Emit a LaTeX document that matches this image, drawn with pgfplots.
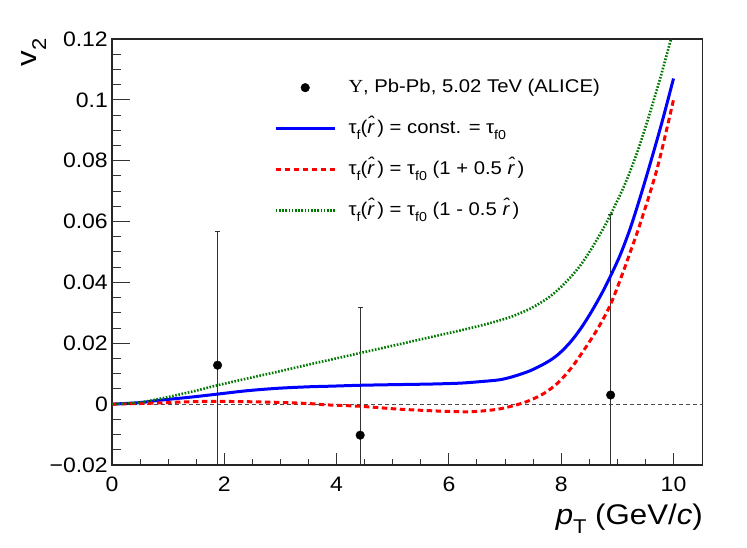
\documentclass[border=0pt]{standalone}
\usepackage{pgfplots}
\pgfplotsset{compat=1.18}
\usepackage{fontspec}
\setmainfont{Liberation Sans}[FakeStretch=1.1]
\newfontfamily\serifsym{Liberation Serif}[FakeStretch=1.1]
\definecolor{rgreen}{RGB}{0,120,0}
\newcommand{\sub}[1]{\raisebox{-0.32em}{\fontsize{13}{15}\selectfont #1}}
\newcommand{\tauf}{τ\sub{f}(\textit{\^{r}})}
\pgfplotstableread{
x y e
1.88 0.0128 0.044
4.42 -0.0102 0.042
8.88 0.0030 0.0594
}\alice
\pgfplotstableread{
x y
0 0
0.5 0.0005
0.86 0.0013
1.4 0.0023
1.88 0.0033
2.4 0.0044
2.94 0.0052
3.5 0.0057
3.89 0.0059
4.42 0.0062
5.0 0.0064
5.67 0.0066
6.2 0.0069
6.56 0.0074
6.9 0.0080
7.15 0.0091
7.45 0.0110
7.75 0.0138
7.95 0.0164
8.16 0.0203
8.35 0.0249
8.52 0.0298
8.7 0.0356
8.85 0.0410
9.05 0.0490
9.23 0.0578
9.41 0.0682
9.6 0.0800
9.8 0.0930
10.0 0.1070
}\blue
\pgfplotstableread{
x y
0 0
0.5 0.0002
0.86 0.0004
1.4 0.0008
1.88 0.0009
2.4 0.0008
2.94 0.0006
3.5 0.0002
3.89 -0.0003
4.42 -0.0007
5.07 -0.0016
5.6 -0.0021
6.0 -0.0024
6.4 -0.0025
6.86 -0.0017
7.21 -0.0002
7.45 0.0013
7.7 0.0036
7.93 0.0068
8.15 0.0112
8.34 0.0160
8.64 0.0245
8.88 0.0328
9.11 0.0438
9.23 0.0500
9.41 0.0595
9.71 0.0775
10.0 0.1000
}\red
\pgfplotstableread{
x y
0 0
0.5 0.0006
0.86 0.0018
1.4 0.0040
1.88 0.0062
2.4 0.0084
2.94 0.0106
3.5 0.0130
3.89 0.0146
4.42 0.0168
5.0 0.0192
5.67 0.0220
6.2 0.0242
6.56 0.0258
6.9 0.0275
7.15 0.0290
7.45 0.0314
7.75 0.0347
7.95 0.0377
8.16 0.0416
8.35 0.0458
8.52 0.0505
8.7 0.0561
8.85 0.0612
9.06 0.0692
9.2 0.0752
9.35 0.0826
9.5 0.0910
9.65 0.1000
9.8 0.1095
9.95 0.1197
10.0 0.1233
}\green
\pgfplotsset{
  linelegend/.style={legend image code/.code={\draw[##1] (0bp,0bp) -- (59bp,0bp);}},
  marklegend/.style={legend image code/.code={\draw[##1] plot coordinates {(29.5bp,0bp)};}},
}
\begin{document}
\begin{tikzpicture}
\begin{axis}[
  scale only axis,
  width=590.7bp, height=426bp,
  xmin=0, xmax=10.52, ymin=-0.02, ymax=0.12,
  axis line style={line width=1.1bp, black!85},
  tick pos=left, tick align=inside,
  xtick={0,2,4,6,8,10}, xticklabels={0,2,4,6,8,10},
  ytick={-0.02,0,0.02,0.04,0.06,0.08,0.1,0.12},
  yticklabels={−0.02,0,0.02,0.04,0.06,0.08,0.1,0.12},
  minor x tick num=3, minor y tick num=3,
  major tick length=16bp, minor tick length=8bp,
  xtick style={/pgfplots/major tick length=12bp,/pgfplots/minor tick length=6bp},
  ytick style={/pgfplots/major tick length=18bp,/pgfplots/minor tick length=9bp},
  every tick/.style={line width=1bp, black!80},
  ticklabel style={font=\fontsize{21}{24}\selectfont},
  yticklabel style={inner sep=0pt, xshift=-4bp},
  xticklabel style={inner sep=0pt, yshift=-11.5bp},
  legend style={draw=none, fill=none, inner sep=0pt,
    at={(rel axis cs:0.2743,0.9085)}, anchor=north west,
    font=\fontsize{18.5}{22}\selectfont,
    row sep=22bp, column sep=12.3bp,
    nodes={inner sep=0pt, text height=14bp, text depth=5bp}},
  legend cell align=left,
]
\addplot[black!70, line width=0.8bp, dash pattern=on 4bp off 3bp, forget plot] coordinates {(0,0) (10.52,0)};
\addplot[only marks, mark=*, mark size=4.3bp, black, marklegend,
  error bars/.cd, y dir=both, y explicit,
  error bar style={line width=1bp, black!80},
  error mark options={rotate=90, mark size=2.5bp, line width=1bp, black!80},
  ] table[x=x, y=y, y error=e] {\alice};
\addlegendentry{{\serifsym Υ}, Pb-Pb, 5.02 TeV (ALICE)}
\addplot[blue, line width=3bp, smooth, linelegend] table[x=x,y=y] {\blue};
\addlegendentry{\tauf{} = const. = τ\sub{f0}}
\addplot[red, line width=3bp, dash pattern=on 5.5bp off 3.5bp, smooth, linelegend] table[x=x,y=y] {\red};
\addlegendentry{\tauf{} = τ\sub{f0} (1 + 0.5 \textit{\^{r}})}
\addplot[rgreen, line width=2.6bp, dash pattern=on 1.6bp off 1.6bp, smooth, linelegend] table[x=x,y=y] {\green};
\addlegendentry{\tauf{} = τ\sub{f0} (1 - 0.5 \textit{\^{r}})}
\end{axis}
\node[rotate=90, anchor=base east, inner sep=0pt, font=\fontsize{28.5}{32}\selectfont] at (-75bp,427bp) {v\sub{\fontsize{20}{22}\selectfont 2}};
\node[anchor=base east, inner sep=0pt, font=\fontsize{28.5}{32}\selectfont] at (591bp,-59bp) {\textit{p}\sub{\fontsize{20}{22}\selectfont T} (GeV/\textit{c})};
\pgfresetboundingbox
\useasboundingbox (-112bp,-83bp) rectangle (635bp,465bp);
\end{tikzpicture}
\end{document}
